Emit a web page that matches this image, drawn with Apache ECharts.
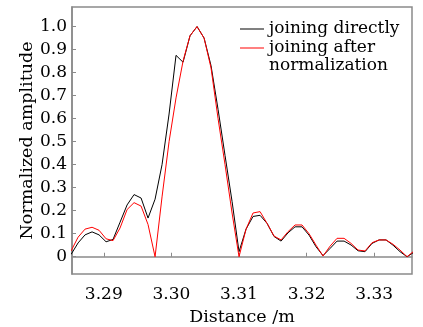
<!DOCTYPE html>
<html>
<head>
<meta charset="utf-8">
<script src="https://cdn.jsdelivr.net/npm/echarts@6/dist/echarts.min.js"></script>
<style>
  html, body { margin: 0; padding: 0; background: #fff; }
  #chart { width: 423px; height: 327px; }
</style>
</head>
<body>
<div id="chart"></div>
<script>
// Sample positions along the range axis (m)
const distance = [
  3.28516, 3.28620, 3.28723, 3.28827, 3.28930, 3.29034, 3.29137, 3.29241, 3.29345, 3.29448,
  3.29552, 3.29655, 3.29759, 3.29862, 3.29966, 3.30069, 3.30173, 3.30276, 3.30380, 3.30484,
  3.30587, 3.30691, 3.30794, 3.30898, 3.31001, 3.31105, 3.31208, 3.31312, 3.31416, 3.31519,
  3.31623, 3.31726, 3.31830, 3.31933, 3.32037, 3.32141, 3.32244, 3.32348, 3.32451, 3.32555,
  3.32658, 3.32762, 3.32865, 3.32969, 3.33073, 3.33176, 3.33280, 3.33383, 3.33487, 3.33590
];

// Amplitude profile when sub-bands are joined directly
const joinedDirectly = [
  0.010, 0.060, 0.095, 0.108, 0.095, 0.065, 0.075, 0.150, 0.225, 0.270,
  0.255, 0.168, 0.250, 0.400, 0.620, 0.875, 0.845, 0.960, 1.000, 0.950,
  0.830, 0.640, 0.440, 0.240, 0.022, 0.120, 0.175, 0.180, 0.145, 0.088,
  0.068, 0.104, 0.130, 0.130, 0.094, 0.043, 0.005, 0.036, 0.068, 0.068,
  0.051, 0.026, 0.022, 0.058, 0.073, 0.073, 0.050, 0.022, 0.000, 0.020
];

// Amplitude profile when sub-bands are normalized before joining
const joinedNormalized = [
  0.025, 0.085, 0.120, 0.128, 0.115, 0.078, 0.070, 0.125, 0.205, 0.235,
  0.220, 0.140, 0.000, 0.260, 0.500, 0.690, 0.850, 0.960, 1.000, 0.950,
  0.820, 0.600, 0.400, 0.190, 0.000, 0.120, 0.190, 0.196, 0.145, 0.090,
  0.073, 0.109, 0.138, 0.138, 0.100, 0.050, 0.003, 0.046, 0.080, 0.080,
  0.058, 0.029, 0.025, 0.061, 0.073, 0.073, 0.054, 0.029, 0.000, 0.025
];

const xTicks = [3.29, 3.30, 3.31, 3.32, 3.33];
const yTicks = [0, 0.1, 0.2, 0.3, 0.4, 0.5, 0.6, 0.7, 0.8, 0.9, 1.0];

const seriesNames = ['joining directly', 'joining after normalization'];

const FONT = 'DejaVu Serif';
const FRAME = '#8a8a8a';
// thin horizontal bar used as the legend line sample (24:1, aspect kept)
const LINE_ICON = 'path://M0,0H48V2H0Z';

const chart = echarts.init(document.getElementById('chart'), null, { renderer: 'canvas' });

const pairs = (ys) => distance.map((d, i) => [d, ys[i]]);

const legendBase = {
  left: 240, padding: 0,
  itemWidth: 24, itemHeight: 14,
  icon: LINE_ICON,
  textStyle: { fontFamily: FONT, fontSize: 17, lineHeight: 18, color: '#000' }
};

chart.setOption({
  animation: false,
  backgroundColor: '#fff',
  grid: {
    left: 72, right: 11, top: 7, bottom: 53,
    outerBoundsMode: 'none',
    show: true, borderColor: FRAME, borderWidth: 1.5, backgroundColor: 'transparent'
  },
  legend: [
    Object.assign({}, legendBase, {
      data: [seriesNames[0]],
      top: 20
    }),
    Object.assign({}, legendBase, {
      data: [seriesNames[1]],
      top: 21,
      // blank first line keeps the sample aligned with "joining after"
      formatter: () => ' \njoining after\nnormalization'
    })
  ],
  xAxis: {
    type: 'value',
    min: 3.2853, max: 3.3356,
    name: 'Distance /m',
    nameLocation: 'middle', nameGap: 34, nameMoveOverlap: false,
    nameTextStyle: { fontFamily: FONT, fontSize: 17.5, color: '#000' },
    axisLine: { show: true, lineStyle: { color: FRAME, width: 1.5 } },
    axisTick: { show: true, inside: true, length: 4, customValues: xTicks, lineStyle: { color: FRAME } },
    axisLabel: {
      customValues: xTicks, margin: 12,
      fontFamily: FONT, fontSize: 17, color: '#000',
      formatter: (v) => v.toFixed(2)
    },
    splitLine: { show: false }
  },
  yAxis: {
    type: 'value',
    min: -0.075, max: 1.085,
    name: 'Normalized amplitude',
    nameLocation: 'middle', nameGap: 36, nameMoveOverlap: false,
    nameTextStyle: { fontFamily: FONT, fontSize: 17.5, color: '#000' },
    axisLine: { show: true, lineStyle: { color: FRAME, width: 1.5 } },
    axisTick: { show: true, inside: true, length: 4, customValues: yTicks, lineStyle: { color: FRAME } },
    axisLabel: {
      customValues: yTicks, margin: 5,
      fontFamily: FONT, fontSize: 17, color: '#000',
      formatter: (v) => (Math.abs(v) < 1e-9 ? '0' : v.toFixed(1))
    },
    splitLine: { show: false }
  },
  series: [
    {
      name: seriesNames[0], type: 'line',
      data: pairs(joinedDirectly),
      symbol: 'none', showSymbol: false, clip: true,
      lineStyle: { color: '#000', width: 1 },
      itemStyle: { color: '#000' }
    },
    {
      name: seriesNames[1], type: 'line',
      data: pairs(joinedNormalized),
      symbol: 'none', showSymbol: false, clip: true,
      lineStyle: { color: '#ff0000', width: 1 },
      itemStyle: { color: '#ff0000' }
    }
  ]
});
</script>
</body>
</html>
